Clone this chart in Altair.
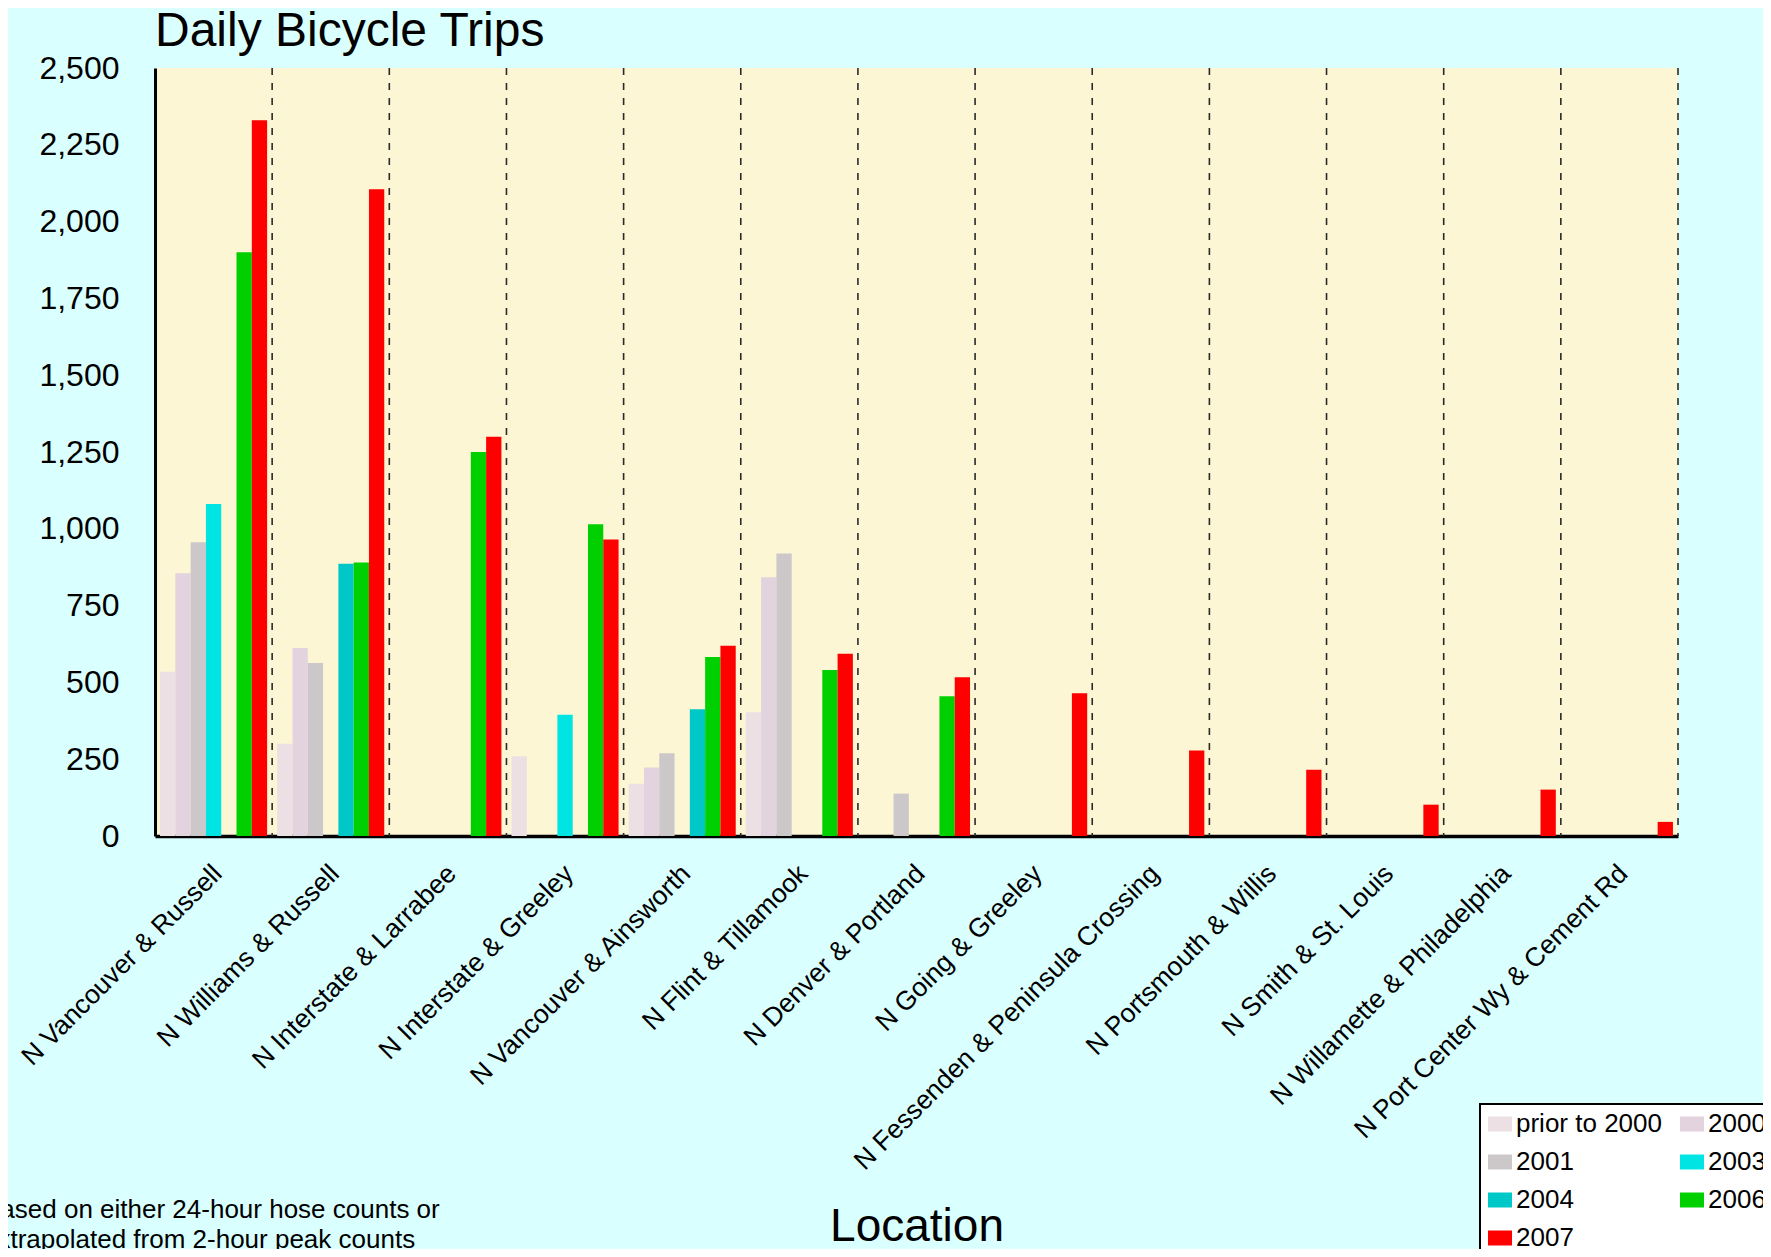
import altair as alt
import pandas as pd

FONT = "Liberation Sans"

locations = [
    "N Vancouver & Russell",
    "N Williams & Russell",
    "N Interstate & Larrabee",
    "N Interstate & Greeley",
    "N Vancouver & Ainsworth",
    "N Flint & Tillamook",
    "N Denver & Portland",
    "N Going & Greeley",
    "N Fessenden & Peninsula Crossing",
    "N Portsmouth & Willis",
    "N Smith & St. Louis",
    "N Willamette & Philadelphia",
    "N Port Center Wy & Cement Rd",
]

series = ["prior to 2000", "2000", "2001", "2003", "2004", "2006", "2007"]
colors = ["#EDE0E4", "#E2D3DE", "#CCC8CA", "#00E4E4", "#00C8C8", "#00D000", "#FF0000"]

v_prior = [535, 300, None, 260, 170, 403, None, None, None, None, None, None, None]
v_2000 = [855, 612, None, None, 223, 842, None, None, None, None, None, None, None]
v_2001 = [956, 563, None, None, 269, 920, 138, None, None, None, None, None, None]
v_2003 = [1081, None, None, 395, None, None, None, None, None, None, None, None, None]
v_2004 = [None, 886, None, None, 413, None, None, None, None, None, None, None, None]
v_2006 = [1900, 890, 1250, 1015, 583, 540, 455, None, None, None, None, None, None]
v_2007 = [2330, 2105, 1300, 965, 619, 593, 517, 465, 278, 216, 102, 151, 46]

y_ticks = [0, 250, 500, 750, 1000, 1250, 1500, 1750, 2000, 2250, 2500]

chart_title = "Daily Bicycle Trips"
footnote = "Based on either 24-hour hose counts or\nextrapolated from 2-hour peak counts"

all_values = [v_prior, v_2000, v_2001, v_2003, v_2004, v_2006, v_2007]
rows = []
for s, vals in zip(series, all_values):
    for loc, v in zip(locations, vals):
        if v is not None:
            rows.append({"loc": loc, "series": s, "value": v})
df = pd.DataFrame(rows)
df_loc = pd.DataFrame({"loc": locations})
df_note = pd.DataFrame({"note": [footnote]})
df_title = pd.DataFrame({"title": [chart_title]})

W, H = 1523, 768

x_axis = alt.Axis(
    title="Location",
    labelAngle=-45,
    labelFontSize=26.5,
    labelFont=FONT,
    labelColor="black",
    labelPadding=24,
    labelOffset=-5,
    labelLimit=1000,
    ticks=False,
    domainColor="black",
    domainWidth=3.5,
    titleFontSize=46,
    titleFont=FONT,
    titleFontWeight="normal",
    titleColor="black",
    titleBaseline="alphabetic",
    titleY=404,
    grid=False,
)

x_scale = alt.Scale(domain=locations, paddingInner=0, paddingOuter=0)

rules = alt.Chart(df_loc).mark_rule(
    strokeDash=[7, 8], color="#2a2a2a", strokeWidth=1.6
).encode(
    x=alt.X("loc:N", sort=locations, scale=x_scale, bandPosition=1, axis=x_axis),
    y=alt.value(0),
    y2=alt.value(H),
)

bars = alt.Chart(df).mark_bar(strokeWidth=0).encode(
    x=alt.X("loc:N", sort=locations, scale=x_scale, axis=x_axis),
    xOffset=alt.XOffset(
        "series:N",
        scale=alt.Scale(domain=series, paddingInner=0, paddingOuter=0.33),
    ),
    y=alt.Y(
        "value:Q",
        scale=alt.Scale(domain=[0, 2500], nice=False),
        axis=alt.Axis(
            title=None,
            values=y_ticks,
            format=",.0f",
            labelFontSize=32,
            labelFont=FONT,
            labelColor="black",
            labelPadding=36,
            ticks=False,
            grid=False,
            domainColor="black",
            domainWidth=3,
        ),
    ),
    color=alt.Color(
        "series:N",
        scale=alt.Scale(domain=series, range=colors),
        legend=alt.Legend(
            title=None,
            orient="none",
            direction="horizontal",
            legendX=1325,
            legendY=1036,
            columns=2,
            columnPadding=17,
            rowPadding=12,
            padding=7,
            fillColor="white",
            strokeColor="black",
            labelFont=FONT,
            labelFontSize=26,
            labelColor="black",
            labelOffset=3,
            symbolType="M-1,-0.625H1V0.625H-1Z",
            symbolSize=576,
            symbolStrokeWidth=0,
            symbolOpacity=1,
        ),
    ),
)

note = alt.Chart(df_note).mark_text(
    align="left",
    baseline="alphabetic",
    fontSize=26,
    font=FONT,
    color="black",
    lineBreak="\n",
    lineHeight=30,
).encode(
    x=alt.value(-172),
    y=alt.value(1150),
    text="note:N",
)

title_mark = alt.Chart(df_title).mark_text(
    align="left",
    baseline="alphabetic",
    fontSize=48,
    font=FONT,
    color="black",
).encode(
    x=alt.value(0),
    y=alt.value(-22),
    text="title:N",
)

chart = alt.layer(rules, bars, note, title_mark).properties(
    width=W,
    height=H,
    autosize=alt.AutoSizeParams(type="none"),
    padding={"left": 147, "top": 60, "right": 85, "bottom": 413},
).configure(
    background="#DAFFFF",
).configure_view(
    fill="#FCF6D4",
    strokeWidth=0,
).configure_legend(
    strokeWidth=2,
)

chart.save("out.html", embed_options={"renderer": "svg", "actions": False})
